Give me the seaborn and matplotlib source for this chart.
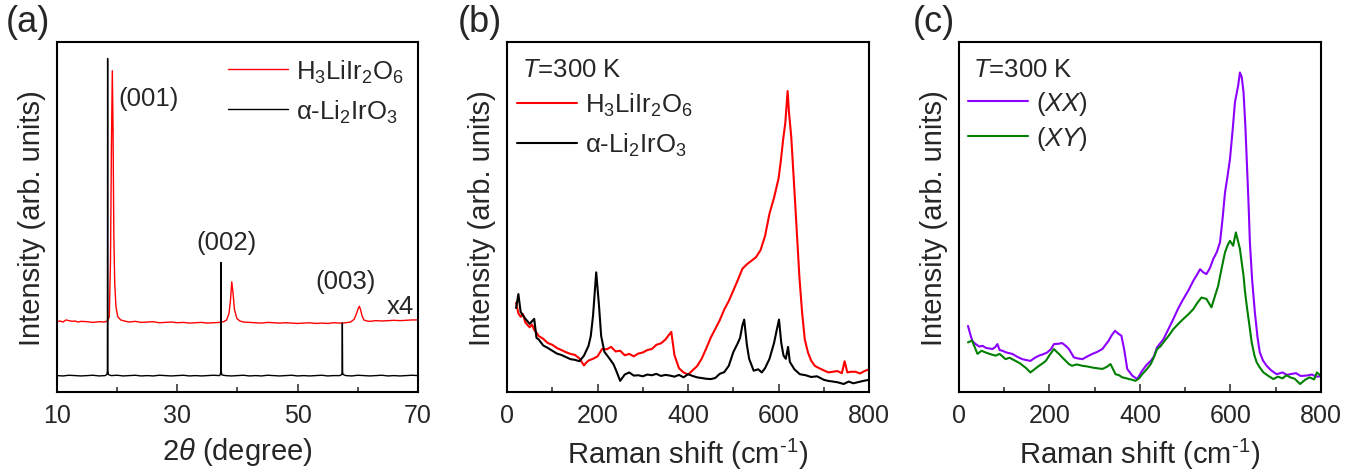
import matplotlib
matplotlib.use("Agg")
import matplotlib.pyplot as plt
from matplotlib.ticker import FixedLocator, MultipleLocator
import seaborn as sns

# -----------------------------
# Data (intensity in arb. units 0-100)
# -----------------------------
# (a) XRD
tt_h3 = [10, 10.5, 11, 11.5, 12, 12.5, 13, 13.5, 14, 15, 16, 17, 17.8, 18.4, 18.7, 18.9,
         19.05, 19.2, 19.32, 19.45, 19.6, 19.8, 20.1, 20.6, 21.2, 22, 23, 24, 25, 26, 27,
         28, 29, 30, 31, 32, 33, 34, 35, 36, 37, 37.7, 38.2, 38.6, 38.85, 39.05, 39.25,
         39.5, 39.9, 40.4, 41, 42, 43, 44, 45, 46, 47, 48, 49, 50, 51, 52, 53, 54, 55, 56,
         57, 58, 58.8, 59.4, 59.8, 60.05, 60.25, 60.45, 60.7, 61.0, 61.5, 62, 63, 64, 65,
         66, 67, 68, 69, 70]
int_h3 = [20.1, 20.3, 20.0, 20.6, 20.4, 20.2, 20.3, 20.0, 20.2, 20.1, 19.9, 20.1, 20.0, 20.3, 21.5, 38.0,
          70.0, 91.8, 75.0, 45.0, 31.0, 24.5, 21.5, 20.6, 20.3, 20.0, 20.2, 19.9, 20.0, 20.1, 19.8,
          19.9, 20.0, 19.8, 19.9, 19.7, 19.8, 19.9, 19.7, 19.8, 19.9, 20.1, 20.6, 22.5, 26.5, 31.5, 28.5,
          23.5, 21.0, 20.3, 20.0, 19.9, 19.8, 19.7, 19.9, 19.8, 19.7, 19.8, 19.7, 19.6, 19.7, 19.8, 19.6, 19.7, 19.6, 19.8,
          19.7, 19.8, 20.0, 20.8, 22.5, 23.8, 24.5, 23.6, 21.8, 20.6, 20.3, 20.2, 20.4, 20.3, 20.4,
          20.5, 20.4, 20.5, 20.6, 20.6]

tt_li = [10, 11, 12, 13, 14, 15, 16, 17, 18, 18.3, 18.38, 18.42, 18.46, 18.55, 19, 20, 21, 22,
         23, 24, 25, 26, 27, 28, 29, 30, 31, 32, 33, 34, 35, 36, 37, 37.15, 37.22, 37.26, 37.3,
         37.4, 38, 39, 40, 41, 42, 43, 44, 45, 46, 47, 48, 49, 50, 51, 52, 53, 54, 55, 56, 57,
         57.32, 57.39, 57.43, 57.47, 57.55, 58, 59, 60, 61, 62, 63, 64, 65, 66, 67, 68, 69, 70]
int_li = [4.7, 4.6, 4.8, 4.7, 4.6, 4.7, 4.8, 4.6, 4.7, 5.0, 6.0, 95.3, 6.2, 5.0, 4.7, 4.8, 4.6, 4.7,
          4.8, 4.6, 4.7, 4.6, 4.8, 4.7, 4.6, 4.7, 4.8, 4.6, 4.7, 4.6, 4.7, 4.8, 4.7, 5.0, 6.0, 37.0, 6.0,
          4.9, 4.7, 4.6, 4.7, 4.8, 4.6, 4.7, 4.6, 4.8, 4.7, 4.6, 4.7, 4.8, 4.6, 4.7, 4.6, 4.7, 4.8, 4.6, 4.7, 4.7,
          5.0, 5.8, 19.7, 5.8, 5.0, 4.7, 4.6, 4.8, 4.7, 4.6, 4.7, 4.8, 4.6, 4.7, 4.6, 4.7, 4.8, 4.7]

xrd_major = [10, 30, 50, 70]
xrd_minor = [20, 40, 60]

# (b) Raman, H3LiIr2O6 vs alpha-Li2IrO3
shift_h3 = [20, 25, 30, 35, 40, 45, 50, 55, 60, 65, 70, 80, 90, 100, 110, 120, 130, 140, 150,
            160, 170, 175, 180, 190, 200, 210, 220, 230, 240, 250, 260, 270, 280, 290, 300, 310,
            320, 330, 340, 350, 357, 363, 370, 380, 390, 400, 410, 420, 430, 440, 450, 460, 470,
            480, 490, 500, 510, 520, 530, 540, 550, 560, 570, 580, 590, 600, 605, 610, 615, 620,
            623, 628, 634, 640, 646, 652, 658, 665, 672, 680, 690, 700, 710, 720, 730, 740, 746,
            752, 760, 770, 780, 790, 800]
raman_h3 = [25.5, 22.5, 21.5, 22.3, 20.0, 19.2, 18.5, 19.3, 17.8, 17.0, 16.0, 15.2, 14.0, 13.5, 12.6, 12.0, 11.4, 10.9, 10.6,
            9.6, 7.6, 8.4, 9.0, 9.5, 10.2, 12.3, 12.2, 12.9, 11.6, 11.8, 10.5, 10.9, 10.2, 11.0, 11.3, 12.0,
            12.3, 13.5, 13.9, 15.0, 16.2, 17.2, 10.5, 6.8, 5.6, 5.0, 6.2, 7.4, 9.5, 12.4, 15.5, 18.0, 20.5,
            23.6, 26.0, 29.0, 32.0, 35.2, 36.5, 37.5, 38.5, 40.5, 44.5, 51.0, 55.5, 61.0, 66.0, 72.0, 77.0, 86.0,
            80.0, 73.0, 60.0, 46.6, 33.0, 22.8, 15.0, 11.3, 9.0, 7.5, 6.8, 6.2, 5.6, 5.8, 6.0, 5.4, 8.8,
            5.6, 5.8, 5.8, 5.3, 6.0, 6.5]

shift_li = [20, 25, 30, 40, 50, 60, 65, 70, 80, 90, 100, 110, 120, 130, 140, 150, 160, 170, 180,
            185, 190, 197, 203, 208, 215, 225, 235, 240, 250, 260, 270, 280, 290, 300, 310, 320,
            330, 340, 350, 360, 370, 380, 390, 400, 410, 420, 430, 440, 450, 460, 470, 480, 490,
            500, 510, 515, 520, 524, 530, 535, 545, 555, 563, 570, 580, 590, 595, 601, 606, 611,
            616, 621, 625, 635, 647, 660, 672, 685, 700, 709, 720, 730, 744, 755, 765, 775, 788, 800]
raman_li = [24.0, 28.0, 22.9, 21.0, 19.5, 20.9, 15.5, 15.0, 13.3, 12.6, 11.8, 11.0, 10.6, 10.0, 9.4, 9.2, 8.8, 10.4, 13.2,
            16.0, 21.8, 34.2, 25.0, 16.0, 11.5, 9.8, 8.0, 6.5, 3.2, 5.0, 5.6, 4.7, 4.8, 4.5, 5.0, 4.8,
            5.2, 4.6, 4.9, 4.7, 4.4, 4.9, 4.2, 5.1, 4.6, 4.2, 4.0, 3.8, 3.7, 4.0, 5.2, 5.7, 7.5,
            11.4, 14.0, 15.5, 19.0, 20.7, 13.5, 9.5, 6.1, 6.5, 5.6, 6.8, 9.5, 14.0, 17.1, 20.7, 14.0, 10.4,
            9.5, 12.9, 8.6, 6.5, 5.1, 4.8, 4.3, 4.5, 3.5, 3.2, 3.0, 2.8, 2.3, 3.0, 2.5, 2.8, 3.2, 3.5]

# (c) Raman, polarization (XX) / (XY)
shift_xx = [20, 26, 30, 37, 45, 52, 60, 74, 80, 85, 90, 96, 105, 118, 130, 140, 150, 158, 168,
            177, 186, 195, 203, 210, 220, 228, 236, 243, 254, 263, 273, 284, 295, 306, 317, 324,
            331, 338, 345, 352, 359, 365, 372, 383, 394, 405, 415, 424, 431, 438, 452, 463, 474,
            485, 496, 507, 518, 526, 533, 540, 547, 555, 562, 570, 577, 583, 588, 594, 599, 605,
            610, 617, 621, 625, 629, 633, 636, 640, 643, 648, 654, 660, 665, 672, 680, 690, 702,
            715, 725, 732, 745, 755, 768, 780, 790, 800]
raman_xx = [18.9, 16.1, 14.5, 13.7, 13.0, 13.2, 12.6, 12.3, 12.8, 13.7, 12.0, 11.8, 11.3, 10.9, 10.0, 9.4, 9.1, 8.9, 9.8,
            10.4, 10.8, 11.3, 12.2, 13.7, 13.8, 14.0, 13.2, 12.3, 9.9, 9.6, 9.4, 10.2, 10.9, 11.5, 12.3, 13.5,
            14.7, 16.3, 17.5, 16.7, 16.1, 12.3, 6.6, 4.7, 3.7, 6.1, 7.8, 8.9, 10.2, 12.8, 15.1, 18.0, 20.9,
            24.0, 26.6, 29.0, 31.8, 33.5, 35.1, 34.2, 33.7, 35.5, 38.0, 40.0, 42.8, 50.0, 57.0, 62.0, 66.6, 75.0,
            82.8, 87.5, 91.3, 90.0, 85.6, 76.0, 66.6, 54.0, 42.8, 32.0, 22.8, 15.5, 11.3, 9.0, 7.5, 6.2, 5.1,
            5.6, 4.9, 5.1, 5.4, 4.6, 4.7, 5.0, 4.4, 4.5]

shift_xy = [20, 29, 35, 41, 50, 59, 70, 81, 90, 103, 112, 125, 135, 147, 158, 167, 177, 185, 192,
            200, 210, 216, 221, 229, 236, 243, 250, 260, 273, 284, 295, 305, 317, 327, 335, 346,
            354, 361, 368, 376, 383, 390, 398, 405, 415, 424, 431, 438, 445, 452, 463, 474, 485,
            496, 507, 518, 527, 536, 547, 558, 566, 573, 580, 588, 594, 599, 606, 612, 617, 621,
            625, 629, 632, 636, 642, 647, 653, 658, 665, 673, 684, 695, 705, 715, 724, 732, 742,
            754, 765, 775, 785, 791, 800]
raman_xy = [14.2, 14.7, 12.8, 10.9, 11.8, 11.3, 10.8, 10.4, 10.9, 9.4, 9.8, 8.9, 8.2, 7.0, 5.6, 6.5, 7.5, 8.2, 8.9,
            10.5, 12.3, 11.5, 10.9, 9.8, 8.9, 8.0, 7.5, 7.9, 7.5, 7.3, 7.0, 6.8, 6.6, 7.2, 8.0, 5.1,
            4.8, 4.2, 4.0, 3.7, 3.5, 3.2, 3.9, 5.1, 6.5, 8.0, 10.0, 12.3, 13.0, 14.2, 16.0, 18.0, 19.5,
            20.9, 22.2, 23.7, 25.5, 27.0, 26.6, 24.2, 27.5, 30.4, 35.0, 39.9, 42.0, 43.2, 41.8, 45.6, 43.0, 40.9,
            37.0, 33.2, 29.0, 24.7, 19.0, 14.2, 10.5, 8.5, 7.0, 5.6, 4.6, 3.7, 4.4, 3.9, 4.8, 4.2, 3.8,
            2.3, 3.5, 4.2, 3.6, 5.6, 4.6]

lbl_h3 = r"H$_3$LiIr$_2$O$_6$"
lbl_li = r"α-Li$_2$IrO$_3$"

# -----------------------------
# Style
# -----------------------------
sns.set_style("ticks")
plt.rcParams["font.family"] = ["Liberation Sans", "DejaVu Sans"]
plt.rcParams["mathtext.fontset"] = "custom"
plt.rcParams["mathtext.rm"] = "Liberation Sans"
plt.rcParams["mathtext.it"] = "Liberation Sans:italic"
plt.rcParams["axes.unicode_minus"] = False
plt.rcParams["axes.linewidth"] = 1.5
plt.rcParams["axes.edgecolor"] = "black"

fig = plt.figure(figsize=(13.66, 4.77), dpi=100)
ax_a = fig.add_axes([0.0417, 0.176, 0.2643, 0.7338])
ax_b = fig.add_axes([0.3712, 0.176, 0.2650, 0.7338])
ax_c = fig.add_axes([0.7020, 0.176, 0.2650, 0.7338])

# -----------------------------
# (a) XRD
# -----------------------------
sns.lineplot(x=tt_h3, y=int_h3, color="#ff0000", lw=1.0, label=lbl_h3, ax=ax_a)
sns.lineplot(x=tt_li, y=int_li, color="black", lw=1.0, label=lbl_li, ax=ax_a)
ax_a.set_xlim(10, 70)
ax_a.xaxis.set_major_locator(FixedLocator(xrd_major))
ax_a.xaxis.set_minor_locator(FixedLocator(xrd_minor))
ax_a.set_xlabel(r"2$\theta$ (degree)", fontsize=21, labelpad=6)
ax_a.text(25.2, 84, "(001)", fontsize=18.5, ha="center", va="center")
ax_a.text(38.2, 42.9, "(002)", fontsize=18.5, ha="center", va="center")
ax_a.text(57.9, 31.7, "(003)", fontsize=18.5, ha="center", va="center")
ax_a.text(69.3, 24.6, "x4", fontsize=18.5, ha="right", va="center")
ax_a.legend(loc="center left", bbox_to_anchor=(0.475, 0.860), frameon=False,
            fontsize=18.5, handlelength=2.33, handletextpad=0.3, labelspacing=0.5,
            borderpad=0, borderaxespad=0)

# -----------------------------
# (b) Raman comparison
# -----------------------------
sns.lineplot(x=shift_h3, y=raman_h3, color="#ff0000", lw=1.5, label=lbl_h3, ax=ax_b)
sns.lineplot(x=shift_li, y=raman_li, color="black", lw=1.5, label=lbl_li, ax=ax_b)
ax_b.text(0.041, 0.923, r"$T$=300 K", transform=ax_b.transAxes, fontsize=18.5, va="center")
ax_b.legend(loc="center left", bbox_to_anchor=(0.028, 0.764), frameon=False,
            fontsize=18.5, handlelength=2.33, handletextpad=0.3, labelspacing=0.5,
            borderpad=0, borderaxespad=0)

# -----------------------------
# (c) Raman polarization
# -----------------------------
sns.lineplot(x=shift_xx, y=raman_xx, color="#8c00ff", lw=1.5, label=r"($XX$)", ax=ax_c)
sns.lineplot(x=shift_xy, y=raman_xy, color="#008000", lw=1.5, label=r"($XY$)", ax=ax_c)
ax_c.text(0.039, 0.923, r"$T$=300 K", transform=ax_c.transAxes, fontsize=18.5, va="center")
ax_c.legend(loc="center left", bbox_to_anchor=(0.026, 0.777), frameon=False,
            fontsize=18.5, handlelength=2.33, handletextpad=0.3, labelspacing=0.27,
            borderpad=0, borderaxespad=0)

for ax in (ax_b, ax_c):
    ax.set_xlim(0, 800)
    ax.xaxis.set_major_locator(MultipleLocator(200))
    ax.xaxis.set_minor_locator(MultipleLocator(100))
    ax.set_xlabel(r"Raman shift (cm$^{\text{-1}}$)", fontsize=21, labelpad=6)

for ax in (ax_a, ax_b, ax_c):
    ax.set_ylim(0, 100)
    ax.set_yticks([])
    ax.set_ylabel("Intensity (arb. units)", fontsize=21, labelpad=8)
    ax.tick_params(axis="x", which="both", direction="in", bottom=True, top=False,
                   labelsize=18, pad=8, width=1.1)
    ax.tick_params(axis="x", which="major", length=6)
    ax.tick_params(axis="x", which="minor", length=3.5)
    for sp in ax.spines.values():
        sp.set_visible(True)
        sp.set_color("black")
        sp.set_linewidth(1.5)

fig.text(0.004, 0.952, "(a)", fontsize=26, va="center")
fig.text(0.335, 0.952, "(b)", fontsize=26, va="center")
fig.text(0.668, 0.952, "(c)", fontsize=26, va="center")

fig.savefig("out.png", dpi=100)
